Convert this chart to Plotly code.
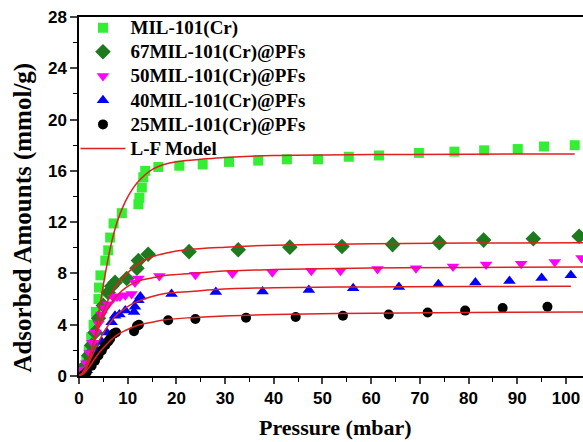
import plotly.graph_objects as go

# ---- measured data (pressure in mbar, adsorbed amount in mmol/g) ----
mil_x = [0.4, 1.0, 1.5, 2.0, 2.5, 3.0, 3.5, 4.0, 4.1, 4.4, 5.4, 6.0, 6.4, 7.1, 8.8, 12.2, 12.4, 12.9, 13.2, 13.6,
         16.3, 20.6, 25.4, 30.8, 36.8, 42.7, 49.1, 55.4, 61.6, 69.8, 77.1, 83.2, 90.1, 95.5, 101.8]
mil_y = [0.3, 0.6, 1.2, 2.0, 3.0, 4.0, 5.0, 6.0, 6.9, 7.85, 9.0, 9.8, 10.8, 11.9, 12.7, 13.4, 13.9, 14.7, 15.5, 16.0,
         16.3, 16.4, 16.5, 16.7, 16.8, 16.9, 16.9, 17.1, 17.2, 17.4, 17.5, 17.6, 17.7, 17.9, 18.0]

p67_x = [0.5, 1.3, 2.0, 2.6, 3.3, 4.0, 5.0, 6.0, 6.7, 7.4, 9.8, 11.9, 12.2, 14.2, 22.6, 32.7, 43.3, 54.0,
         64.4, 74.0, 83.1, 93.3, 102.7]
p67_y = [0.3, 0.8, 1.6, 2.4, 3.4, 4.5, 5.5, 6.5, 7.0, 7.3, 7.6, 8.4, 9.0, 9.5, 9.7, 9.85, 10.05, 10.1,
         10.25, 10.4, 10.6, 10.7, 10.9]

p50_x = [0.3, 0.8, 1.5, 2.2, 2.8, 3.4, 4.0, 4.6, 5.2, 6.0, 7.1, 7.8, 8.4, 9.5, 10.8, 11.5, 12.2, 16.5,
         23.9, 31.5, 39.7, 47.7, 53.7, 61.3, 69.2, 76.8, 83.6, 90.8, 97.7, 103.2]
p50_y = [0.3, 0.5, 1.0, 1.8, 2.6, 3.4, 4.1, 4.8, 5.3, 5.6, 6.1, 6.2, 6.2, 6.3, 6.4, 7.3, 7.6, 7.8,
         7.9, 8.0, 8.1, 8.2, 8.2, 8.35, 8.4, 8.55, 8.7, 8.75, 8.9, 9.2]

p40_x = [1.0, 1.6, 2.6, 3.7, 4.7, 5.7, 6.7, 7.4, 8.3, 9.5, 11.3, 11.5, 12.2, 12.6, 19.0, 28.1, 37.7, 47.2,
         56.3, 65.7, 73.8, 81.4, 88.4, 95.0, 101.0]
p40_y = [0.2, 0.45, 1.1, 1.9, 2.65, 3.4, 4.2, 4.7, 4.8, 5.1, 5.0, 5.4, 5.9, 6.2, 6.4, 6.55, 6.6, 6.7,
         6.85, 6.95, 7.15, 7.3, 7.4, 7.65, 7.85]

p25_x = [1.0, 1.6, 2.6, 3.3, 4.0, 4.7, 5.4, 6.0, 6.4, 7.1, 7.6, 11.3, 11.9, 12.3, 18.3, 23.9, 34.3, 44.5,
         54.2, 63.6, 71.6, 79.3, 87.0, 96.2]
p25_y = [0.1, 0.3, 0.8, 1.2, 1.6, 2.0, 2.4, 2.7, 2.9, 3.3, 3.4, 3.5, 3.9, 4.0, 4.35, 4.45, 4.55, 4.6,
         4.7, 4.8, 4.95, 5.1, 5.3, 5.4]

# L-F model curves
fit_mil_x = [0, 1, 2, 3, 4, 5, 6, 7, 8, 9.5, 11, 12.5, 15, 18, 22, 25, 30, 40, 60, 80, 101.8]
fit_mil_y = [0, 0.3, 1.1, 2.6, 4.8, 7.1, 9.2, 10.9, 12.2, 13.6, 14.6, 15.3, 16.1, 16.55, 16.8, 16.9, 17.05, 17.2, 17.27, 17.3, 17.32]

fit67_x = [0, 1, 2, 3, 4, 5, 6, 7, 8, 9.5, 11, 13, 15, 18, 22, 30, 40, 60, 80, 103.5]
fit67_y = [0, 0.35, 1.3, 2.6, 3.9, 5.0, 5.95, 6.7, 7.25, 7.85, 8.4, 8.95, 9.3, 9.6, 9.85, 10.05, 10.2, 10.32, 10.37, 10.4]

fit50_x = [0, 1, 2, 3, 4, 5, 6, 7, 8, 9.5, 11, 13, 15, 18, 23, 31, 40, 60, 80, 103.5]
fit50_y = [0, 0.4, 1.4, 2.6, 3.7, 4.6, 5.3, 5.9, 6.35, 6.85, 7.2, 7.5, 7.65, 7.85, 8.0, 8.2, 8.3, 8.42, 8.47, 8.5]

fit40_x = [0, 1, 2, 3, 4, 5, 6, 7, 8, 9.5, 11, 13, 15, 18, 23, 31, 40, 60, 80, 101]
fit40_y = [0, 0.3, 1.0, 1.85, 2.65, 3.35, 3.95, 4.45, 4.85, 5.3, 5.65, 5.95, 6.2, 6.45, 6.6, 6.8, 6.88, 6.95, 6.98, 7.0]

fit25_x = [0, 1, 2, 3, 4, 5, 6, 7, 8, 9.5, 11, 13, 15, 18, 23, 31, 40, 60, 80, 103.5]
fit25_y = [0, 0.2, 0.65, 1.2, 1.75, 2.2, 2.6, 2.95, 3.25, 3.55, 3.8, 4.05, 4.2, 4.4, 4.55, 4.7, 4.8, 4.9, 4.95, 5.0]

x_ticks = [0, 10, 20, 30, 40, 50, 60, 70, 80, 90, 100]
y_ticks = [0, 4, 8, 12, 16, 20, 24, 28]

RED = "#e02020"


def leg(name):
    return '<span style="font-size:19px">' + name + '</span>'


fig = go.Figure()

series = [
    ("MIL-101(Cr)", mil_x, mil_y, "square", "#33ee33", 10),
    ("67MIL-101(Cr)@PFs", p67_x, p67_y, "diamond", "#1e7a1e", 12),
    ("50MIL-101(Cr)@PFs", p50_x, p50_y, "triangle-down", "#ff00ff", 11),
    ("40MIL-101(Cr)@PFs", p40_x, p40_y, "triangle-up", "#0000ff", 11),
    ("25MIL-101(Cr)@PFs", p25_x, p25_y, "circle", "#000000", 10),
]
for name, xs, ys, sym, col, sz in series:
    fig.add_trace(go.Scatter(x=xs, y=ys, mode="markers", name=leg(name),
                             marker=dict(symbol=sym, color=col, size=sz, line=dict(width=0))))

fits = [(fit_mil_x, fit_mil_y), (fit67_x, fit67_y), (fit50_x, fit50_y), (fit40_x, fit40_y), (fit25_x, fit25_y)]
for i, (fx, fy) in enumerate(fits):
    fig.add_trace(go.Scatter(x=fx, y=fy, mode="lines", name=leg("L-F Model"),
                             line=dict(color=RED, width=1.5, shape="spline"),
                             showlegend=(i == 0)))

tickfont = dict(family="Liberation Sans", size=17, color="black", weight="bold")
titlefont_x = dict(family="Liberation Serif", size=22, color="black", weight="bold")
titlefont_y = dict(family="Liberation Serif", size=25, color="black", weight="bold")

fig.update_layout(
    width=583, height=442,
    margin=dict(l=79, r=0, t=17, b=66),
    paper_bgcolor="white", plot_bgcolor="white",
    showlegend=True,
    legend=dict(x=-0.007, y=1.018, xanchor="left", yanchor="top",
                bgcolor="rgba(0,0,0,0)", borderwidth=0,
                font=dict(family="Liberation Serif", size=16.3, color="black", weight="bold"),
                itemwidth=45, tracegroupgap=0),
    xaxis=dict(range=[0, 103.5], tickvals=x_ticks, ticks="outside", ticklen=6, tickwidth=1.5,
               showline=True, linecolor="black", linewidth=1.5, mirror=True,
               showgrid=False, zeroline=False,
               minor=dict(dtick=5, ticks="outside", ticklen=4, tickwidth=1.2, tickcolor="black"),
               tickfont=tickfont),
    yaxis=dict(range=[0, 28], tickvals=y_ticks, ticks="outside", ticklen=7, tickwidth=1.5,
               showline=True, linecolor="black", linewidth=1.5,
               showgrid=False, zeroline=False,
               minor=dict(dtick=2, ticks="outside", ticklen=4, tickwidth=1.2, tickcolor="black"),
               tickfont=tickfont),
    annotations=[
        dict(text="Pressure (mbar)", xref="paper", yref="paper", x=0.508, y=-0.143,
             xanchor="center", yanchor="middle", showarrow=False, font=titlefont_x),
        dict(text="Adsorbed Amounts (mmol/g)", xref="paper", yref="paper", x=-0.112, y=0.44,
             xanchor="center", yanchor="middle", showarrow=False, textangle=-90, font=titlefont_y),
    ],
)

fig.write_html("out.html")
